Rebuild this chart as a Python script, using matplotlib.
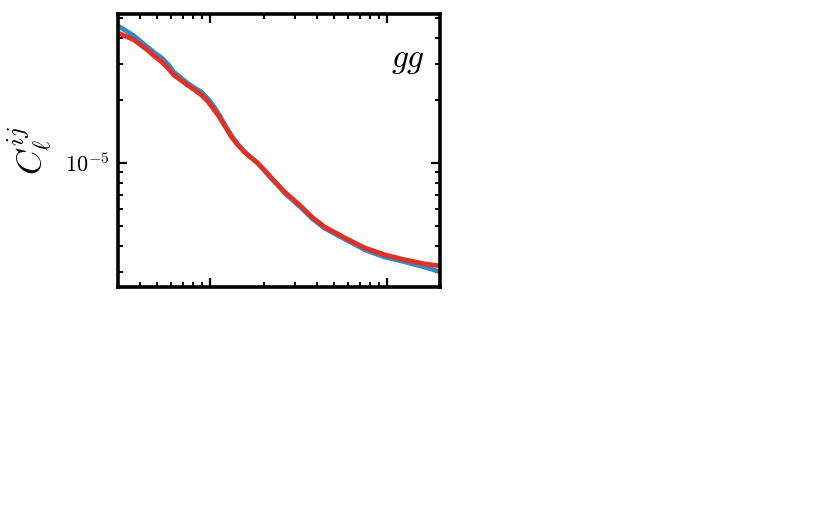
import numpy as np
import matplotlib
matplotlib.use("Agg")
from matplotlib import pyplot as plt
from matplotlib.ticker import NullFormatter, LogLocator, FuncFormatter

plt.rcParams['mathtext.fontset'] = 'cm'
plt.rcParams['font.family'] = 'DejaVu Serif'

#############################################################################################################
# data: multipole ell and the two gg spectra
ell = [30, 37, 44, 48, 53, 58, 62, 68, 74, 81, 89, 97, 105, 111, 117, 124, 132, 143, 156, 170, 185, 203,
       222, 242, 263, 295, 329, 380, 444, 510, 577, 660, 750, 860, 975, 1120, 1265, 1450, 1644, 1820, 2000]

cl_blue = [4.56e-5, 4.08e-5, 3.61e-5, 3.40e-5, 3.20e-5, 2.96e-5, 2.74e-5, 2.57e-5, 2.42e-5, 2.30e-5, 2.19e-5,
           2.03e-5, 1.86e-5, 1.73e-5, 1.60e-5, 1.47e-5, 1.35e-5, 1.23e-5, 1.13e-5, 1.06e-5, 1.00e-5, 9.15e-6,
           8.40e-6, 7.77e-6, 7.18e-6, 6.58e-6, 6.05e-6, 5.37e-6, 4.85e-6, 4.55e-6, 4.30e-6, 4.05e-6, 3.82e-6,
           3.66e-6, 3.52e-6, 3.43e-6, 3.34e-6, 3.24e-6, 3.15e-6, 3.07e-6, 2.99e-6]

cl_red = [4.22e-5, 3.90e-5, 3.49e-5, 3.27e-5, 3.06e-5, 2.83e-5, 2.65e-5, 2.50e-5, 2.37e-5, 2.25e-5, 2.12e-5,
          1.97e-5, 1.80e-5, 1.69e-5, 1.57e-5, 1.45e-5, 1.33e-5, 1.22e-5, 1.13e-5, 1.06e-5, 1.00e-5, 9.20e-6,
          8.47e-6, 7.83e-6, 7.26e-6, 6.67e-6, 6.14e-6, 5.45e-6, 4.92e-6, 4.62e-6, 4.36e-6, 4.12e-6, 3.90e-6,
          3.75e-6, 3.61e-6, 3.51e-6, 3.42e-6, 3.34e-6, 3.27e-6, 3.23e-6, 3.20e-6]

panel_label = '$gg$'

#############################################################################################################
# figure
fig = plt.figure(figsize=(8.3, 5.23), dpi=100)
ax = fig.add_axes([0.1422, 0.4512, 0.388, 0.522])

ax.plot(ell, cl_blue, color='#3787c0', lw=3.4, solid_capstyle='butt')
ax.plot(ell, cl_red, color='#e03127', lw=3.4, solid_capstyle='butt')

ax.set_xscale('log')
ax.set_yscale('log')
ax.set_xlim(30, 2000)
ax.set_ylim(2.53e-6, 5.2e-5)

ax.yaxis.set_major_locator(LogLocator(base=10))
ax.yaxis.set_major_formatter(FuncFormatter(lambda v, p: r'$10^{%d}$' % round(np.log10(v))))
ax.yaxis.set_minor_locator(LogLocator(base=10, subs=np.arange(2, 10)))
ax.yaxis.set_minor_formatter(NullFormatter())
ax.xaxis.set_minor_formatter(NullFormatter())

ax.tick_params(which='both', direction='in', top=True, right=True, labelbottom=False)
ax.tick_params(which='major', length=6.5, width=1.6, labelsize=16, pad=6)
ax.tick_params(which='minor', length=3.5, width=1.4)
for sp in ax.spines.values():
    sp.set_linewidth(2.6)

ax.set_ylabel(r'$C_\ell^{ij}$', fontsize=25, labelpad=8)
ax.text(0.953, 0.806, panel_label, transform=ax.transAxes, ha='right', va='baseline', fontsize=24)

fig.savefig('out.png', dpi=100)
